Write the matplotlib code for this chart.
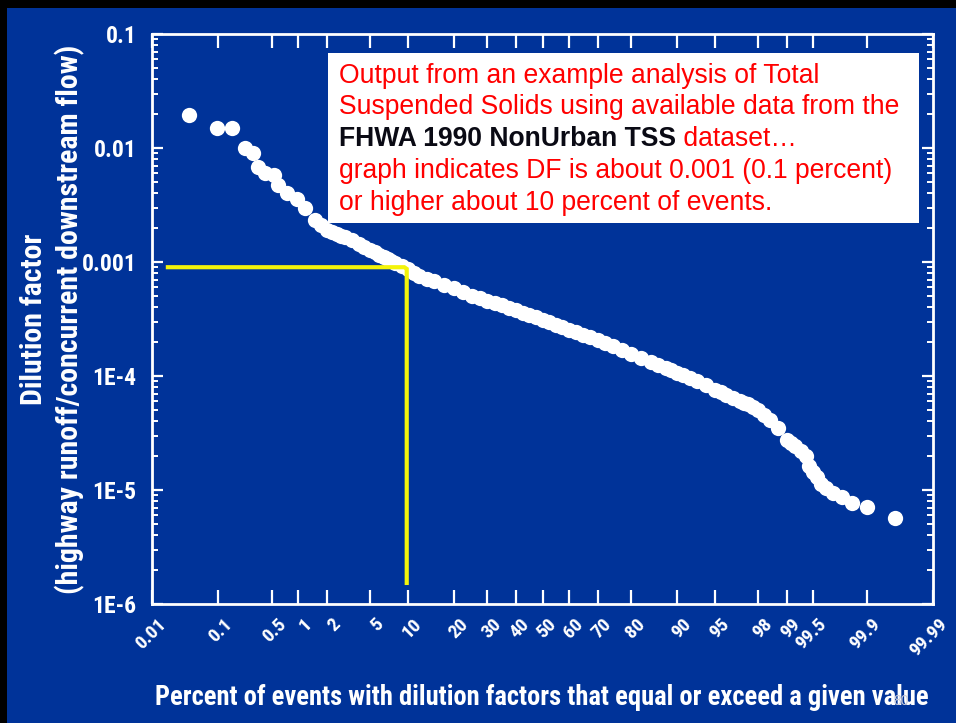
import math
import numpy as np
import matplotlib
matplotlib.use("Agg")
import matplotlib.pyplot as plt
from matplotlib import font_manager as fm
from matplotlib import transforms as mtrans
from matplotlib.patches import Rectangle
from matplotlib.text import Annotation
from matplotlib.ticker import NullLocator, LogLocator, NullFormatter

# ---------------- data ----------------
pct = [0.038, 0.098, 0.154, 0.23, 0.29, 0.34, 0.41, 0.53, 0.59, 0.74, 0.96, 1.2,
       1.5, 1.75, 2, 2.25, 2.5, 2.75, 3, 3.5, 4, 4.5,
       5, 5.5, 6, 6.5, 7, 7.5, 8, 9, 10, 11,
       12, 13.5, 15, 17.5, 20, 22.5, 25, 27.5, 30, 32.5,
       35, 37.5, 40, 42.5, 45, 47.5, 50, 52.5, 55, 57.5,
       60, 62.5, 65, 67.5, 70, 72.5, 75, 77.5, 80, 82.5,
       85, 86.5, 88, 89, 90, 91, 92, 93, 94, 95,
       95.5, 96, 96.5, 97, 97.25, 97.5, 97.75, 98, 98.25, 98.5,
       98.75, 99, 99.1, 99.2, 99.3, 99.4, 99.45, 99.5, 99.55, 99.6,
       99.65, 99.72, 99.78, 99.84, 99.90, 99.96]
dilution = [0.0195, 0.0149, 0.0149, 0.0099, 0.0090, 0.0068, 0.0060, 0.0058, 0.0047, 0.0040, 0.0036, 0.0030,
            0.00234, 0.00211, 0.00191, 0.00183, 0.00176, 0.00169, 0.00166, 0.00156, 0.00144, 0.00135,
            0.00127, 0.00122, 0.00115, 0.00111, 0.00106, 0.00102, 0.00098, 0.00092, 0.00087, 0.00080,
            0.00075, 0.00071, 0.00068, 0.00063, 0.00059, 0.000545, 0.000503, 0.000483, 0.000455, 0.000437,
            0.000420, 0.000395, 0.000379, 0.000357, 0.000343, 0.000329, 0.000310, 0.000298, 0.000280, 0.000269,
            0.000253, 0.000243, 0.000229, 0.000220, 0.000207, 0.000195, 0.000183, 0.000169, 0.000156, 0.000144,
            0.000133, 0.000125, 0.0001176, 0.0001129, 0.0001062, 0.000102, 9.61e-5, 9.04e-5, 8.34e-5, 7.54e-5,
            7.24e-5, 6.81e-5, 6.41e-5, 6.03e-5, 5.80e-5, 5.68e-5, 5.35e-5, 5.03e-5, 4.55e-5, 4.11e-5,
            3.50e-5, 2.75e-5, 2.58e-5, 2.43e-5, 2.20e-5, 1.99e-5, 1.62e-5, 1.44e-5, 1.30e-5, 1.13e-5,
            1.04e-5, 9.41e-6, 8.68e-6, 7.69e-6, 7.10e-6, 5.68e-6]

xticks = [0.01, 0.1, 0.5, 1, 2, 5, 10, 20, 30, 40, 50, 60, 70, 80, 90, 95, 98, 99, 99.5, 99.9, 99.99]
xtick_labels = ['0.01', '0.1', '0.5', '1', '2', '5', '10', '20', '30', '40', '50', '60', '70',
                '80', '90', '95', '98', '99', '99.5', '99.9', '99.99']
yticks = [1e-6, 1e-5, 1e-4, 1e-3, 1e-2, 1e-1]
ytick_labels = ['1E-6', '1E-5', '1E-4', '0.001', '0.01', '0.1']

guide_x = [0.018, 9.4, 9.8, 9.8]
guide_y = [9.0e-4, 9.0e-4, 8.7e-4, 1.53e-6]

xlabel = "Percent of events with dilution factors that equal or exceed a given value"
ylabel1 = "Dilution factor"
ylabel2 = "(highway runoff/concurrent downstream flow)"
note1 = "Output from an example analysis of Total"
note2 = "Suspended Solids using available data from the"
note3a = "FHWA 1990 NonUrban TSS"
note3b = " dataset\u2026"
note4 = "graph indicates DF is about 0.001 (0.1 percent)"
note5 = "or higher about 10 percent of events."

# ---------------- normal probability scale ----------------
_a = [-3.969683028665376e+01, 2.209460984245205e+02, -2.759285104469687e+02,
      1.383577518672690e+02, -3.066479806614716e+01, 2.506628277459239e+00]
_b = [-5.447609879822406e+01, 1.615858368580409e+02, -1.556989798598866e+02,
      6.680131188771972e+01, -1.328068155288572e+01]
_c = [-7.784894002430293e-03, -3.223964580411365e-01, -2.400758277161838e+00,
      -2.549671010229528e+00, 4.374664141464968e+00, 2.938163982698783e+00]
_d = [7.784695709041462e-03, 3.224671290700398e-01, 2.445134137142996e+00,
      3.754408661907416e+00]


def _ppf(p):
    p = np.atleast_1d(np.asarray(p, float))
    out = np.empty_like(p)
    plow = 0.02425
    lo = p < plow
    hi = p > 1 - plow
    mid = ~(lo | hi)
    if lo.any():
        q = np.sqrt(-2 * np.log(p[lo]))
        out[lo] = (((((_c[0]*q+_c[1])*q+_c[2])*q+_c[3])*q+_c[4])*q+_c[5]) / \
                  ((((_d[0]*q+_d[1])*q+_d[2])*q+_d[3])*q+1)
    if mid.any():
        q = p[mid] - 0.5
        r = q * q
        out[mid] = (((((_a[0]*r+_a[1])*r+_a[2])*r+_a[3])*r+_a[4])*r+_a[5])*q / \
                   (((((_b[0]*r+_b[1])*r+_b[2])*r+_b[3])*r+_b[4])*r+1)
    if hi.any():
        q = np.sqrt(-2 * np.log(1 - p[hi]))
        out[hi] = -(((((_c[0]*q+_c[1])*q+_c[2])*q+_c[3])*q+_c[4])*q+_c[5]) / \
                   ((((_d[0]*q+_d[1])*q+_d[2])*q+_d[3])*q+1)
    return out


_erf = np.vectorize(math.erf)


def fwd(v):
    v = np.asarray(v, float)
    p = np.clip(v / 100.0, 1e-10, 1 - 1e-10)
    return _ppf(p).reshape(v.shape)


def inv(z):
    z = np.asarray(z, float)
    return (50.0 * (1.0 + _erf(np.atleast_1d(z) / math.sqrt(2.0)))).reshape(z.shape)


# ---------------- fonts ----------------
names = {f.name for f in fm.fontManager.ttflist}
COND = next((n for n in ['Liberation Sans Narrow', 'DejaVu Sans Condensed', 'Roboto Condensed']
             if n in names), 'DejaVu Sans')
SANS = 'Liberation Sans' if 'Liberation Sans' in names else 'DejaVu Sans'

BLUE = '#003399'
YELLOW = '#f4f40a'
W, H = 956, 723

fig = plt.figure(figsize=(W / 100, H / 100), dpi=100, facecolor='black')
fig.add_artist(Rectangle((7 / W, 0), 1, 1 - 8 / H, transform=fig.transFigure,
                         facecolor=BLUE, edgecolor='none', zorder=-5))

ax = fig.add_axes([152 / W, 1 - 604 / H, (933 - 152) / W, (604 - 34) / H])
ax.set_facecolor(BLUE)
ax.set_xscale('function', functions=(fwd, inv))
ax.set_yscale('log')
ax.set_xlim(0.01, 99.99)
ax.set_ylim(1e-6, 0.1)

ax.plot(pct, dilution, 'o', ms=11, color='white', mec='none', zorder=3)
ax.plot(guide_x, guide_y, color=YELLOW, lw=3, zorder=4, solid_joinstyle='miter')

ax.set_xticks(xticks, xtick_labels)
ax.xaxis.set_minor_locator(NullLocator())
ax.set_yticks(yticks, ytick_labels)
ax.yaxis.set_minor_locator(LogLocator(base=10, subs=np.arange(2, 10)))
ax.yaxis.set_minor_formatter(NullFormatter())

ax.tick_params(axis='x', which='major', direction='in', length=10, width=1.6, color='white',
               top=True, bottom=True, labelsize=14, labelcolor='white', pad=12.5)
ax.tick_params(axis='y', which='major', direction='in', length=8, width=1.6, color='white',
               left=True, right=True, labelsize=17, labelcolor='white', pad=11)
ax.tick_params(axis='y', which='minor', direction='in', length=4.5, width=1.4, color='white',
               left=True, right=True)
for s in ax.spines.values():
    s.set_color('white')
    s.set_linewidth(2)

dx = mtrans.ScaledTranslation(8 / 72, 0, fig.dpi_scale_trans)
for lab in ax.get_xticklabels():
    lab.set_fontfamily(COND)
    lab.set_fontweight('bold')
    lab.set_rotation(45)
    lab.set_rotation_mode('anchor')
    lab.set_ha('right')
    lab.set_va('center')
    lab.set_transform(lab.get_transform() + dx)
for lab in ax.get_yticklabels():
    lab.set_fontfamily(COND)
    lab.set_fontweight('bold')

# axis titles
fig.text(542 / W, 1 - 705 / H, xlabel, ha='center', va='baseline', fontsize=19.1,
         family=COND, weight='bold', color='white')
fig.text(42 / W, 1 - 319 / H, ylabel1, rotation=90, rotation_mode='anchor', ha='center',
         va='baseline', fontsize=21.5, family=COND, weight='bold', color='white')
fig.text(78 / W, 1 - 319 / H, ylabel2, rotation=90, rotation_mode='anchor', ha='center',
         va='baseline', fontsize=21.5, family=COND, weight='bold', color='white')

# annotation box
fig.add_artist(Rectangle((328 / W, 1 - 223 / H), (919 - 328) / W, (223 - 53) / H,
                         transform=fig.transFigure, facecolor='white', edgecolor='none', zorder=5))
NOTE_FS = 19.1
tx = 339 / W
red = '#ff0000'
fig.text(tx, 1 - 83 / H, note1, fontsize=NOTE_FS, family=SANS, color=red, va='baseline', zorder=6)
fig.text(tx, 1 - 114.5 / H, note2, fontsize=NOTE_FS, family=SANS, color=red, va='baseline', zorder=6)
t3 = fig.text(tx, 1 - 146 / H, note3a, fontsize=NOTE_FS, family=SANS, weight='bold',
              color='#0a0a14', va='baseline', zorder=6)
fig.add_artist(Annotation(note3b, xy=(1, 0), xycoords=t3, va='bottom', ha='left',
                          fontsize=NOTE_FS, family=SANS, color=red, zorder=6))
fig.text(tx, 1 - 178 / H, note4, fontsize=NOTE_FS, family=SANS, color=red, va='baseline', zorder=6)
fig.text(tx, 1 - 210 / H, note5, fontsize=NOTE_FS, family=SANS, color=red, va='baseline', zorder=6)

# slide number
fig.text(893 / W, 1 - 705 / H, '80', fontsize=10, family=SANS, color='#c9cbd8', zorder=7)

fig.savefig('out.png', dpi=100, facecolor=fig.get_facecolor())
